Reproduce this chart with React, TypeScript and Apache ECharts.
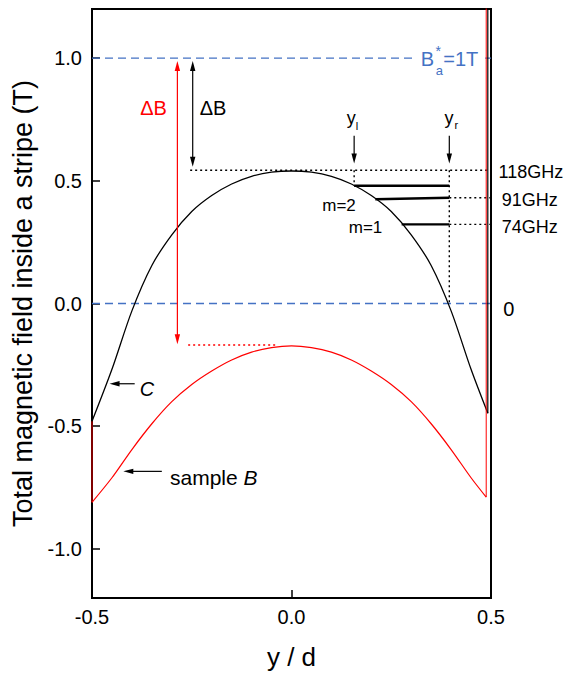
import React, { useEffect, useRef } from 'react';
import * as echarts from 'echarts';

// ---- axes ----
const xTicks = [-0.5, 0.0, 0.5];
const yTicks = [-1.0, -0.5, 0.0, 0.5, 1.0];

// ---- curve C (black) ----
const curveCX = [-0.5, -0.45, -0.4, -0.35, -0.3, -0.25, -0.2, -0.15, -0.1, -0.05, 0, 0.05, 0.1, 0.15, 0.2, 0.25, 0.3, 0.35, 0.4, 0.45, 0.492];
const curveCY = [-0.48, -0.268, -0.03, 0.155, 0.28, 0.375, 0.44, 0.487, 0.518, 0.535, 0.54, 0.535, 0.518, 0.487, 0.44, 0.375, 0.28, 0.155, -0.03, -0.268, -0.447];
const curveCEdge = [[0.492, -0.447], [0.492, 1.4]];

// ---- sample B (red) ----
const sampleBX = [-0.5, -0.45, -0.4, -0.35, -0.3, -0.25, -0.2, -0.15, -0.1, -0.05, 0, 0.05, 0.1, 0.15, 0.2, 0.25, 0.3, 0.35, 0.4, 0.45, 0.488];
const sampleBY = [-0.81, -0.71, -0.595, -0.49, -0.40, -0.33, -0.275, -0.23, -0.198, -0.18, -0.173, -0.18, -0.198, -0.23, -0.275, -0.33, -0.40, -0.49, -0.595, -0.71, -0.789];
const sampleBEdgeLeft = [[-0.5, -0.48], [-0.5, -0.81]];
const sampleBEdgeRight = [[0.488, -0.789], [0.488, 1.4]];

// ---- reference lines ----
const blueDashSegs = [
  [[-0.5, 1.0], [0.314, 1.0]],
  [[0.4855, 1.0], [0.5, 1.0]],
  [[-0.5, 0.0], [0.5, 0.0]],
];
const blackDotSegs = [
  [[-0.254, 0.543], [0.5, 0.543]],
  [[0.157, 0.543], [0.157, 0.48]],
  [[0.3955, 0.543], [0.3955, 0.0]],
  [[0.3955, 0.431], [0.5, 0.431]],
  [[0.3955, 0.3225], [0.5, 0.3225]],
];
const redDotSegs = [[[-0.259, -0.169], [-0.034, -0.169]]];
const levelSegs = [
  [[0.157, 0.48], [0.3955, 0.48]],
  [[0.21, 0.425], [0.3955, 0.431]],
  [[0.276, 0.3225], [0.3955, 0.3225]],
];

// ---- arrows: x1, y1, x2 (tip), y2 (tip), heads at both ends ----
const redArrows = [[-0.286, 0.988, -0.286, -0.166, 1]];
const blackArrows = [
  [-0.2476, 0.988, -0.2476, 0.557, 1],
  [0.157, 0.684, 0.157, 0.57, 0],
  [0.3955, 0.684, 0.3955, 0.57, 0],
  [-0.393, -0.327, -0.456, -0.327, 0],
  [-0.325, -0.684, -0.4216, -0.684, 0],
];

const FONT = '"Liberation Sans", Arial, Helvetica, sans-serif';
const BLUE = '#4472c4';
const RED = '#ff0000';

const zip = (xs: number[], ys: number[]) => xs.map((x, i) => [x, ys[i]]);

const segSeries = (segs: number[][][], color: string, type: any, width: number, z = 2) =>
  segs.map((seg) => ({
    type: 'line',
    data: seg,
    symbol: 'none',
    silent: true,
    z,
    lineStyle: { color, width, type },
  }));

const arrowSeries = (rows: number[][], color: string) => ({
  type: 'custom',
  data: rows,
  silent: true,
  clip: false,
  z: 6,
  encode: { x: [0, 2], y: [1, 3] },
  renderItem: (params: any, api: any) => {
    const a = api.coord([api.value(0), api.value(1)]);
    const b = api.coord([api.value(2), api.value(3)]);
    const both = api.value(4) === 1;
    const dx = b[0] - a[0];
    const dy = b[1] - a[1];
    const len = Math.hypot(dx, dy) || 1;
    const ux = dx / len;
    const uy = dy / len;
    const nx = -uy;
    const ny = ux;
    const L = 10;
    const W = 2.7;
    const head = (tip: number[], dir: number) => ({
      type: 'polygon',
      shape: {
        points: [
          [tip[0], tip[1]],
          [tip[0] - dir * ux * L + nx * W, tip[1] - dir * uy * L + ny * W],
          [tip[0] - dir * ux * L - nx * W, tip[1] - dir * uy * L - ny * W],
        ],
      },
      style: { fill: color },
    });
    const start = both ? [a[0] + ux * L * 0.8, a[1] + uy * L * 0.8] : a;
    const end = [b[0] - ux * L * 0.8, b[1] - uy * L * 0.8];
    const children: any[] = [
      {
        type: 'line',
        shape: { x1: start[0], y1: start[1], x2: end[0], y2: end[1] },
        style: { stroke: color, lineWidth: 1.2 },
      },
      head(b, 1),
    ];
    if (both) children.push(head(a, -1));
    return { type: 'group', children };
  },
});

const txt = (text: string, x: number, y: number, size: number, opts: any = {}) => ({
  type: 'text',
  x,
  y,
  z: 10,
  style: {
    text,
    fontSize: size,
    fontFamily: FONT,
    fontStyle: opts.italic ? 'italic' : 'normal',
    fill: opts.fill || '#000',
    align: opts.align || 'center',
    verticalAlign: 'middle',
    textAlign: opts.align || 'center',
    textVerticalAlign: 'middle',
    rich: opts.rich,
  },
});

export default function App() {
  const ref = useRef<HTMLDivElement>(null);
  useEffect(() => {
    document.body.style.margin = '0';
    const chart = echarts.init(ref.current!, null, { renderer: 'svg' });
    const option: any = {
      animation: false,
      grid: {
        left: 92,
        right: 88,
        top: 9,
        bottom: 69,
        show: true,
        borderColor: '#000',
        borderWidth: 2,
        backgroundColor: 'transparent',
      },
      xAxis: {
        type: 'value',
        min: -0.5,
        max: 0.5,
        interval: 0.5,
        name: 'y / d',
        nameLocation: 'middle',
        nameGap: 46,
        nameTextStyle: { fontSize: 26, fontFamily: FONT, color: '#000' },
        axisLine: { onZero: false, lineStyle: { color: '#000', width: 2 } },
        axisTick: { inside: true, length: 8, lineStyle: { color: '#000', width: 1.5 }, customValues: xTicks },
        axisLabel: {
          customValues: xTicks,
          margin: 9,
          fontSize: 20,
          fontFamily: FONT,
          color: '#000',
          formatter: (v: number) => v.toFixed(1),
        },
        splitLine: { show: false },
      },
      yAxis: {
        type: 'value',
        min: -1.2,
        max: 1.2,
        name: 'Total magnetic field inside a stripe (T)',
        nameLocation: 'middle',
        nameGap: 54,
        nameTextStyle: { fontSize: 27, fontFamily: FONT, color: '#000' },
        axisLine: { onZero: false, lineStyle: { color: '#000', width: 2 } },
        axisTick: { inside: true, length: 8, lineStyle: { color: '#000', width: 1.5 }, customValues: yTicks },
        axisLabel: {
          customValues: yTicks,
          margin: 10,
          fontSize: 20,
          fontFamily: FONT,
          color: '#000',
          formatter: (v: number) => v.toFixed(1),
        },
        splitLine: { show: false },
      },
      series: [
        ...segSeries(blueDashSegs, BLUE, [8, 5], 1.3, 1),
        ...segSeries(blackDotSegs, '#000', [2, 3], 1.4, 2),
        ...segSeries(redDotSegs, RED, [2, 3], 1.4, 2),
        ...segSeries(levelSegs, '#000', 'solid', 2.4, 3),
        {
          type: 'line',
          name: 'C',
          data: zip(curveCX, curveCY),
          symbol: 'none',
          smooth: 0.3,
          z: 4,
          lineStyle: { color: '#000', width: 1.3 },
        },
        {
          type: 'line',
          name: 'sample B',
          data: zip(sampleBX, sampleBY),
          symbol: 'none',
          smooth: 0.3,
          z: 5,
          lineStyle: { color: RED, width: 1.2 },
        },
        ...segSeries([sampleBEdgeLeft, sampleBEdgeRight], RED, 'solid', 1.0, 5),
        ...segSeries([curveCEdge], '#000', 'solid', 1.2, 6),
        arrowSeries(redArrows, RED),
        arrowSeries(blackArrows, '#000'),
      ],
      graphic: [
        txt('ΔB', 153.5, 107.5, 20, { fill: RED }),
        txt('ΔB', 213, 108, 20),
        txt('y', 351.2, 118, 18),
        txt('l', 356.9, 125.5, 11),
        txt('y', 448.9, 118, 18),
        txt('r', 456.4, 125.2, 11),
        txt('118GHz', 498.5, 171.7, 18, { align: 'left' }),
        txt('91GHz', 501.7, 199.5, 18, { align: 'left' }),
        txt('74GHz', 501.7, 226.7, 18, { align: 'left' }),
        txt('0', 503.3, 309, 20, { align: 'left' }),
        txt('m=2', 339, 205.5, 17),
        txt('m=1', 365.5, 227.5, 17),
        txt('C', 147, 389, 20, { italic: true }),
        txt('{n|sample }{i|B}', 170, 477, 21, {
          align: 'left',
          rich: {
            n: { fontSize: 21, fontFamily: FONT, fill: '#000', color: '#000' },
            i: { fontSize: 21, fontFamily: FONT, fontStyle: 'italic', fill: '#000', color: '#000' },
          },
        }),
        txt('B', 427.5, 59.2, 20, { fill: BLUE }),
        txt('*', 438.3, 50.7, 14, { fill: BLUE }),
        txt('a', 439.3, 70.6, 13, { fill: BLUE }),
        txt('=1T', 443.3, 59.2, 20, { fill: BLUE, align: 'left' }),
      ],
    };
    chart.setOption(option);
    return () => chart.dispose();
  }, []);
  return <div ref={ref} style={{ width: 579, height: 675 }} />;
}
